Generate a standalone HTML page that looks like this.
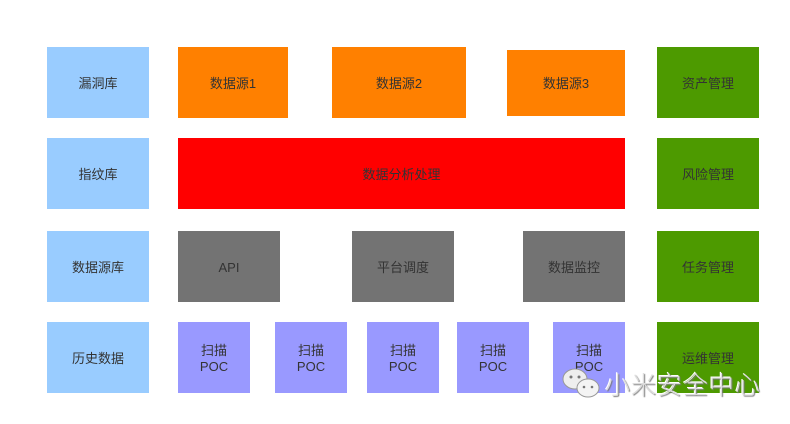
<!DOCTYPE html>
<html><head><meta charset="utf-8"><style>
body{margin:0;width:790px;height:424px;background:#fff;position:relative;overflow:hidden;font-family:"Liberation Sans","Noto Sans CJK SC",sans-serif;}
.b{position:absolute;display:flex;align-items:center;justify-content:center;text-align:center;font-size:13px;color:#333;line-height:16px;box-sizing:border-box;padding-top:2px;}
.l{background:#99ccff}.o{background:#ff8000}.g{background:#4d9a00}.r{background:#ff0000}.d{background:#737373}.p{background:#9999ff}
.wm{position:absolute;left:605px;top:366px;font-size:25px;color:#ddd;letter-spacing:1px;text-shadow:1px 1px 1px #777,-1px -1px 0 #fff;font-family:"Noto Sans CJK SC",sans-serif;font-weight:300}
</style></head><body>
<div class="b l" style="left:47px;top:47px;width:102px;height:71px">漏洞库</div>
<div class="b l" style="left:47px;top:138px;width:102px;height:71px">指纹库</div>
<div class="b l" style="left:47px;top:231px;width:102px;height:71px">数据源库</div>
<div class="b l" style="left:47px;top:322px;width:102px;height:71px">历史数据</div>

<div class="b o" style="left:178px;top:47px;width:110px;height:71px">数据源1</div>
<div class="b o" style="left:332px;top:47px;width:134px;height:71px">数据源2</div>
<div class="b o" style="left:507px;top:50px;width:118px;height:66px">数据源3</div>

<div class="b r" style="left:178px;top:138px;width:447px;height:71px">数据分析处理</div>

<div class="b d" style="left:178px;top:231px;width:102px;height:71px">API</div>
<div class="b d" style="left:352px;top:231px;width:102px;height:71px">平台调度</div>
<div class="b d" style="left:523px;top:231px;width:102px;height:71px">数据监控</div>

<div class="b p" style="left:178px;top:322px;width:72px;height:71px">扫描<br>POC</div>
<div class="b p" style="left:275px;top:322px;width:72px;height:71px">扫描<br>POC</div>
<div class="b p" style="left:367px;top:322px;width:72px;height:71px">扫描<br>POC</div>
<div class="b p" style="left:457px;top:322px;width:72px;height:71px">扫描<br>POC</div>
<div class="b p" style="left:553px;top:322px;width:72px;height:71px">扫描<br>POC</div>

<div class="b g" style="left:657px;top:47px;width:102px;height:71px">资产管理</div>
<div class="b g" style="left:657px;top:138px;width:102px;height:71px">风险管理</div>
<div class="b g" style="left:657px;top:231px;width:102px;height:71px">任务管理</div>
<div class="b g" style="left:657px;top:322px;width:102px;height:71px">运维管理</div>

<svg style="position:absolute;left:561px;top:365px" width="44" height="38">
<ellipse cx="14" cy="14" rx="12" ry="10" fill="#eee" stroke="#999" stroke-width="1"/>
<ellipse cx="27" cy="23" rx="11" ry="9" fill="#f4f4f4" stroke="#999" stroke-width="1"/>
<circle cx="10" cy="12" r="1.5" fill="#777"/><circle cx="18" cy="12" r="1.5" fill="#777"/>
<circle cx="23" cy="22" r="1.3" fill="#777"/><circle cx="31" cy="22" r="1.3" fill="#777"/>
</svg>
<div class="wm">小米安全中心</div>
</body></html>
